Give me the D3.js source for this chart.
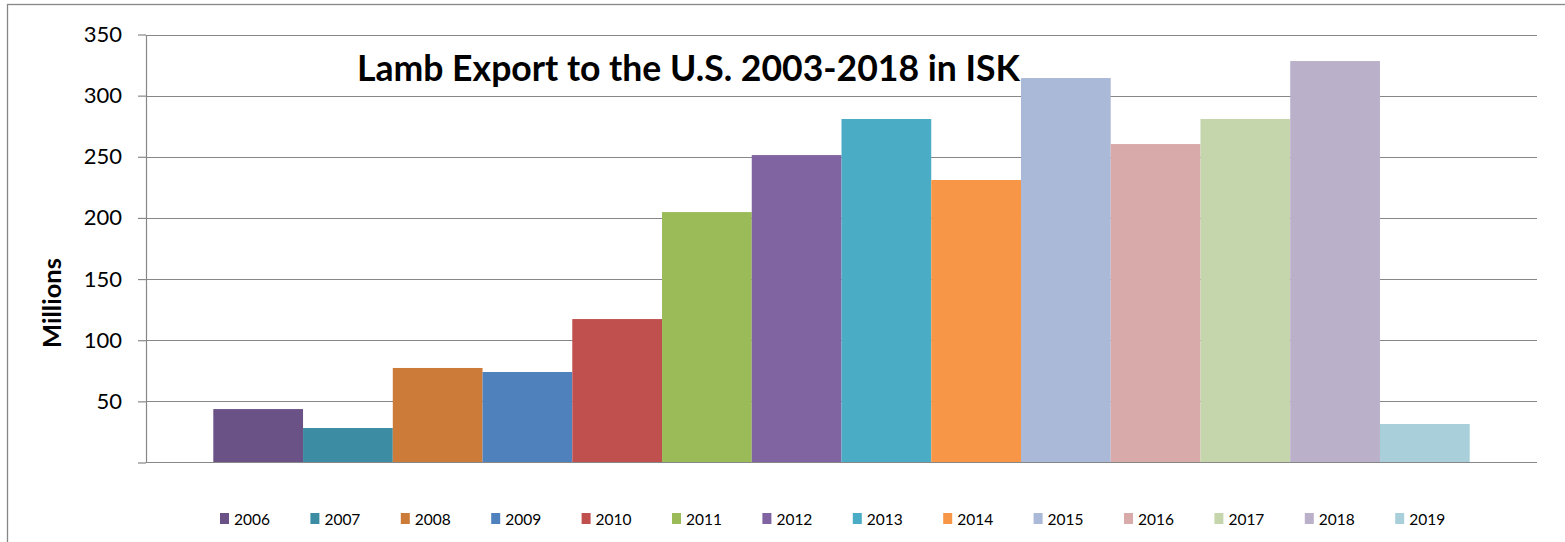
<!DOCTYPE html>
<html>
<head>
<meta charset="utf-8">
<script src="https://cdn.jsdelivr.net/npm/d3@7"></script>
<style>
  html, body { margin: 0; padding: 0; background: #fff; }
  svg { display: block; font-family: Lato, "Open Sans", sans-serif; }
</style>
</head>
<body>
<svg id="chart" width="1565" height="542"></svg>
<script>
// ---------------------------------------------------------------------
// data
// ---------------------------------------------------------------------
const years = ['2006', '2007', '2008', '2009', '2010', '2011', '2012',
               '2013', '2014', '2015', '2016', '2017', '2018', '2019'];
const values = [43.7, 28.2, 77.3, 74.0, 117.3, 204.8, 251.4,
                280.9, 231.0, 314.4, 260.4, 280.9, 328.3, 31.5];
const colors = ['#6a5186', '#3c8da3', '#cc7b38', '#4f81bd', '#c0504d', '#9bbb59', '#8064a2',
                '#4bacc6', '#f79646', '#aab9d7', '#d9aaaa', '#c6d6ac', '#bab0c9', '#a9cfdb'];
const yTicks = [0, 50, 100, 150, 200, 250, 300, 350];
const title = 'Lamb Export to the U.S. 2003-2018 in ISK';
const yTitle = 'Millions';

// ---------------------------------------------------------------------
// layout
// ---------------------------------------------------------------------
const W = 1565, H = 542;
const plot = { left: 146, right: 1537, top: 34.5, bottom: 462.5 };
const gridColor = '#878787';

const svg = d3.select('#chart');

svg.append('rect')
    .attr('width', W).attr('height', H).attr('fill', '#fff');

// outer chart border (runs off the right / bottom edge)
svg.append('rect')
    .attr('x', 7.5).attr('y', 4.5)
    .attr('width', W).attr('height', H)
    .attr('fill', 'none')
    .attr('stroke', gridColor)
    .attr('stroke-width', 1.3);

const y = d3.scaleLinear().domain([0, 350]).range([plot.bottom, plot.top]);

// one category, 14 series -> Excel gap width 150%
const x = d3.scaleBand()
    .domain(years)
    .range([plot.left, plot.right])
    .paddingInner(0)
    .paddingOuter(0.75);

// gridlines
svg.append('g')
    .selectAll('line')
    .data(yTicks.filter(d => d > 0))
    .join('line')
    .attr('x1', plot.left).attr('x2', plot.right)
    .attr('y1', d => Math.round(y(d)) + 0.5).attr('y2', d => Math.round(y(d)) + 0.5)
    .attr('stroke', gridColor)
    .attr('stroke-width', 1.2);

// bars
svg.append('g')
    .selectAll('rect')
    .data(values)
    .join('rect')
    .attr('x', (d, i) => x(years[i]))
    .attr('width', x.bandwidth())
    .attr('y', d => y(d))
    .attr('height', d => y(0) - y(d))
    .attr('fill', (d, i) => colors[i]);

// y axis
const yAxis = svg.append('g')
    .attr('transform', `translate(${plot.left},0)`)
    .call(d3.axisLeft(y)
        .tickValues(yTicks)
        .tickSize(8)
        .tickSizeOuter(0)
        .tickPadding(16)
        .tickFormat(d => d === 0 ? '' : d));
yAxis.select('.domain').attr('stroke', gridColor).attr('stroke-width', 1.2);
yAxis.selectAll('.tick line').attr('stroke', gridColor).attr('stroke-width', 1.2);
yAxis.selectAll('.tick text')
    .attr('fill', '#000')
    .style('font-family', 'Lato, sans-serif')
    .style('font-size', '22px');

// x axis base line
svg.append('line')
    .attr('x1', plot.left).attr('x2', plot.right)
    .attr('y1', plot.bottom).attr('y2', plot.bottom)
    .attr('stroke', gridColor)
    .attr('stroke-width', 1.2);

// fit a text element to a target width by tuning its font size
function fitWidth(sel, target) {
    const node = sel.node();
    const fs = parseFloat(sel.style('font-size'));
    const w = node.getComputedTextLength();
    if (w > 0) sel.style('font-size', (fs * target / w).toFixed(2) + 'px');
}

// title: keep the tall, narrow look by squeezing horizontally
const tg = svg.append('g');
const t = tg.append('text')
    .attr('x', 0).attr('y', 0)
    .style('font-weight', 'bold')
    .style('font-size', '37px')
    .attr('fill', '#000')
    .text(title);
const tw = t.node().getComputedTextLength();
tg.attr('transform', `translate(357,81) scale(${663 / tw},1)`);

// y axis title
const yt = svg.append('text')
    .attr('transform', 'translate(61,303) rotate(-90)')
    .attr('text-anchor', 'middle')
    .style('font-weight', 'bold')
    .style('font-size', '22px')
    .attr('fill', '#000')
    .text(yTitle);
fitWidth(yt, 90);

// legend
const legend = svg.append('g')
    .selectAll('g')
    .data(years)
    .join('g')
    .attr('transform', (d, i) => `translate(${220 + i * 90.4},513)`);

legend.append('rect')
    .attr('width', 9).attr('height', 11)
    .attr('fill', (d, i) => colors[i]);

legend.append('text')
    .attr('x', 14).attr('y', 11.5)
    .style('font-size', '15.5px')
    .attr('fill', '#000')
    .text(d => d);
</script>
</body>
</html>
